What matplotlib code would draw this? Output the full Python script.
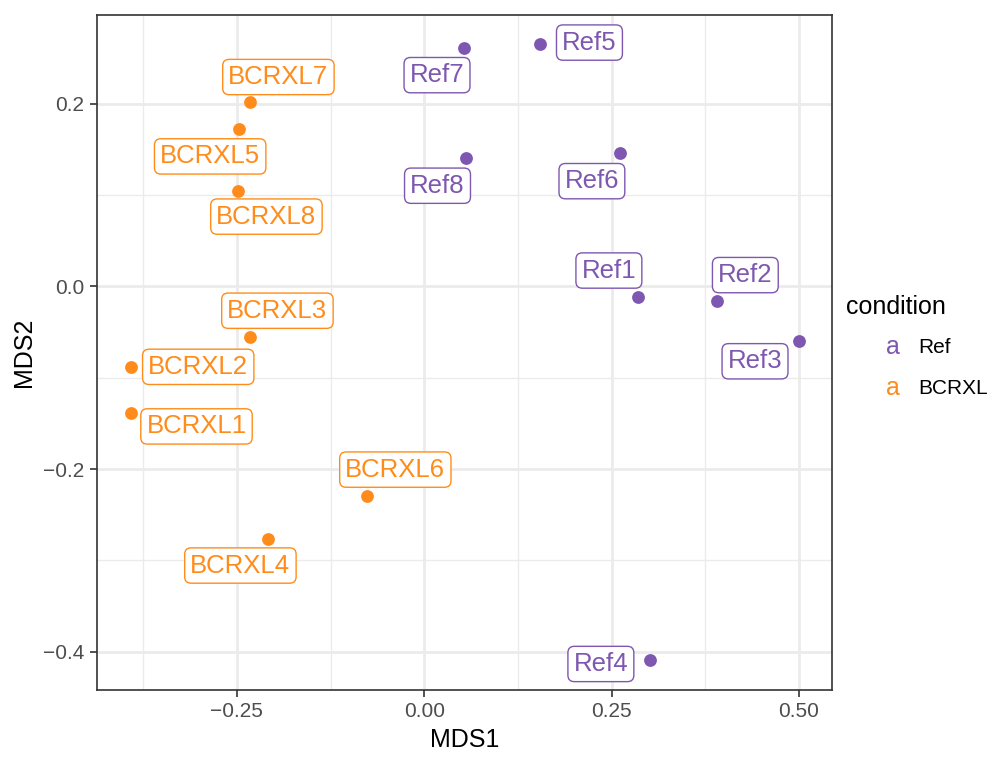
import matplotlib
matplotlib.use('Agg')
import matplotlib.pyplot as plt

plt.rcParams['font.family'] = ['Liberation Sans', 'DejaVu Sans']

# MDS coordinates
samples = ['Ref5', 'Ref7', 'Ref8', 'Ref6', 'Ref1', 'Ref2', 'Ref3', 'Ref4',
           'BCRXL7', 'BCRXL5', 'BCRXL8', 'BCRXL3', 'BCRXL2', 'BCRXL1', 'BCRXL6', 'BCRXL4']
conditions = ['Ref'] * 8 + ['BCRXL'] * 8
mds1 = [0.155, 0.053, 0.055, 0.261, 0.285, 0.391, 0.500, 0.301,
        -0.232, -0.247, -0.248, -0.232, -0.391, -0.392, -0.076, -0.208]
mds2 = [0.266, 0.261, 0.141, 0.146, -0.011, -0.016, -0.060, -0.409,
        0.202, 0.172, 0.105, -0.055, -0.088, -0.139, -0.229, -0.276]

# label offsets in pixels (repel-style placement)
label_dx = [49, -27, -28, -28, -29, 28, -44, -49,
            28, -29, 28, 27, 67, 66, 28, -28]
label_dy = [1, -27, -28, -28, 26, 26, -20, -4,
            25, -27, -26, 26, 0, -13, 26, -27]

colors = {'Ref': '#7E57B0', 'BCRXL': '#FF8C1A'}

fig = plt.figure(figsize=(10, 7.63), dpi=100)
ax = fig.add_axes([0.097, 0.096, 0.735, 0.884])

for cond in ['Ref', 'BCRXL']:
    xs = [x for x, c in zip(mds1, conditions) if c == cond]
    ys = [y for y, c in zip(mds2, conditions) if c == cond]
    ax.scatter(xs, ys, s=85, color=colors[cond], zorder=3, linewidths=0)

for name, cond, x, y, dx, dy in zip(samples, conditions, mds1, mds2, label_dx, label_dy):
    ax.annotate(name, (x, y), xytext=(dx, dy), textcoords='offset pixels',
                ha='center', va='center', fontsize=18.5, color=colors[cond], zorder=4,
                bbox=dict(boxstyle='round,pad=0.22,rounding_size=0.25',
                          fc='white', ec=colors[cond], lw=1))

ax.set_xlim(-0.4367, 0.544)
ax.set_ylim(-0.4416, 0.297)
ax.set_xticks([-0.25, 0.0, 0.25, 0.5])
ax.set_xticklabels(['\u22120.25', '0.00', '0.25', '0.50'])
ax.set_yticks([-0.4, -0.2, 0.0, 0.2])
ax.set_yticklabels(['\u22120.4', '\u22120.2', '0.0', '0.2'])
ax.set_xticks([-0.375, -0.125, 0.125, 0.375], minor=True)
ax.set_yticks([-0.3, -0.1, 0.1], minor=True)

ax.grid(True, which='major', color='#EBEBEB', lw=2.0, zorder=0)
ax.grid(True, which='minor', color='#EBEBEB', lw=1.0, zorder=0)
ax.set_axisbelow(True)
ax.tick_params(which='minor', length=0)
ax.tick_params(which='major', length=5, color='#333333', labelsize=15,
               labelcolor='#4D4D4D', width=1.2, pad=4)
for sp in ax.spines.values():
    sp.set_color('#333333')
    sp.set_linewidth(1.2)

ax.set_xlabel('MDS1', fontsize=18, labelpad=5)
ax.set_ylabel('MDS2', fontsize=18, labelpad=5)

# legend with letter keys like ggplot's text legend
fig.text(0.846, 0.598, 'condition', fontsize=18, va='center')
fig.text(0.893, 0.545, 'a', fontsize=18, color=colors['Ref'], va='center', ha='center')
fig.text(0.918, 0.545, 'Ref', fontsize=15, va='center')
fig.text(0.893, 0.491, 'a', fontsize=18, color=colors['BCRXL'], va='center', ha='center')
fig.text(0.918, 0.491, 'BCRXL', fontsize=15, va='center')

fig.savefig('out.png', dpi=100)
